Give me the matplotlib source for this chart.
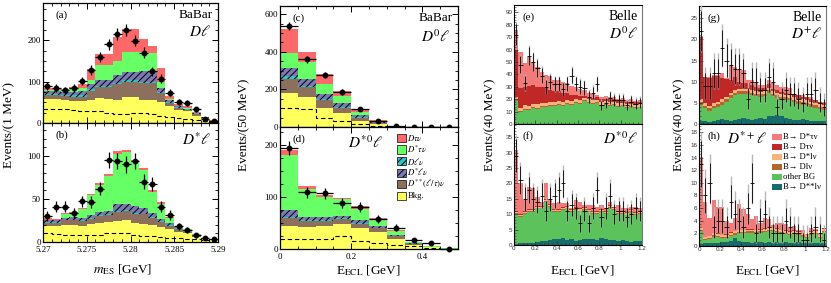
import numpy as np
import matplotlib
matplotlib.use("Agg")
import matplotlib.pyplot as plt
from matplotlib.patches import Rectangle
from matplotlib.ticker import MultipleLocator

plt.rcParams["font.family"] = ["Liberation Serif", "DejaVu Serif"]
plt.rcParams["mathtext.fontset"] = "stix"
plt.rcParams["hatch.linewidth"] = 0.7

# ---------------- BaBar: m_ES (1 MeV bins) ----------------
mes_edges = np.round(np.arange(5.270, 5.2905, 0.001), 4)

# (a) D l sample, stack components from bottom: Bkg, D**, Dlv, D*lv, D*tv, Dtv
a_bkg = [57, 57, 56, 54, 54, 56, 60, 58, 55, 62, 62, 56, 56, 50, 42, 32, 28, 18, 10, 4]
a_dss = [10, 10, 9, 10, 10, 22, 26, 28, 39, 38, 38, 41, 41, 22, 6, 5, 4, 3, 2, 1]
a_dl = [3, 3, 3, 3, 3, 3, 3, 3, 3, 3, 3, 3, 3, 3, 3, 2, 2, 2, 1, 0.5]
a_dsl = [8, 8, 8, 9, 10, 14, 16, 16, 20, 21, 21, 26, 26, 10, 4, 1, 1, 0.5, 0.5, 0.2]
a_dstau = [2, 2, 3, 5, 8, 8, 35, 35, 33, 48, 48, 46, 42, 14, 3, 2, 1, 0.5, 0.3, 0.3]
a_dtau = [4, 4, 3, 5, 10, 27, 27, 27, 59, 55, 55, 30, 17, 33, 7, 5, 5, 3, 0.7, 0.5]
a_data = [89, 85, 79, 85, 101, 128, 159, 190, 215, 225, 199, 170, 125, 107, 73, 51, 49, 33, 10, 4]
a_dash = [35, 35, 33, 31, 30, 29, 28, 25, 21, 22, 23, 23, 21, 18, 14, 12, 10, 8, 5, 3]

# (b) D* l sample
b_bkg = [18, 18, 20, 20, 19, 21, 22, 23, 24, 26, 22, 21, 20, 17, 15, 12, 10, 6, 3, 2]
b_dss = [4, 4, 5, 5, 5, 6, 8, 8, 11, 10, 11, 11, 8, 6, 4, 3, 2, 1, 1, 0.3]
b_dl = [1, 1, 1, 1, 1, 1, 1, 1, 1, 1, 1, 1, 1, 1, 1, 1, 1, 0.5, 0.3, 0.2]
b_dsl = [2, 2, 2, 3, 3, 3, 4, 4, 8, 7, 8, 7, 5, 3, 2, 1, 1, 0.5, 0.7, 0.5]
b_dstau = [1, 1, 5, 5, 10, 23, 31, 40, 58, 60, 51, 44, 24, 17, 6, 1, 1, 1, 0, 0]
b_dtau = [2, 1, 1, 1, 2, 2, 3, 3, 3, 3, 2, 2, 2, 2, 1, 1, 0.5, 0.3, 0.2, 0.1]
b_data = [30, 41, 41, 34, 47, 46, 62, 95, 94, 90, 94, 70, 67, 41, 31, 18, 14, 8, 5, 3]
b_dash = [10, 9, 8, 8, 8, 8, 8, 10, 10, 10, 8, 7, 7, 6, 5, 5, 4, 3, 2, 1]

# ---------------- BaBar: E_ECL (50 MeV bins) ----------------
ecl_edges = np.round(np.arange(0.0, 0.501, 0.05), 3)

c_bkg = [181, 160, 103, 75, 32, 14, 2, 0.5, 0.2, 0]
c_dss = [76, 50, 39, 28, 18, 7, 1, 0.5, 0.1, 0]
c_dl = [13, 7, 7, 4, 3, 2, 0.5, 0.1, 0.05, 0]
c_dsl = [41, 37, 29, 21, 9, 4, 0.5, 0.1, 0.05, 0]
c_dstau = [80, 92, 53, 37, 18, 5, 0.5, 0.1, 0.05, 0]
c_dtau = [128, 54, 50, 27, 18, 4, 0.5, 0.2, 0.05, 0]
c_data = [536, 359, 275, 186, 98, 30, 4, 1, 0, 0]
c_dash = [103, 94, 50, 32, 14, 4, 1, 0.3, 0, 0]

d_bkg = [44, 42, 44, 49, 40, 33, 20, 8, 3, 0.5]
d_dss = [16, 11, 9, 8, 9, 7, 5, 2, 1, 0.2]
d_dl = [2, 2, 2, 2, 2, 1, 1, 0.5, 0.2, 0.05]
d_dsl = [13, 7, 6, 4, 5, 3, 1, 0.5, 0.3, 0.05]
d_dstau = [106, 54, 40, 33, 22, 13, 8, 2, 1, 0.2]
d_dtau = [9, 5, 3, 3, 5, 2, 2, 1, 0.5, 0.1]
d_data = [195, 109, 107, 89, 81, 58, 41, 17, 11, 0]
d_dash = [20, 20, 20, 26, 16, 12, 8, 5, 2, 0]

# ---------------- Belle: E_ECL (40 MeV bins) ----------------
belle_edges = np.round(np.arange(0.0, 1.2001, 0.04), 3)

# stack from bottom: D**lv, other BG, Dlv, D*lv, Dtv, D*tv
e_dssl = [0.3] * 30
e_other = [18.5, 9.5, 10.8, 11.2, 12.9, 12.1, 13.8, 13.2, 14.4, 14.0, 15.2, 14.5, 15.9, 15.1, 16.8,
           16.0, 18.2, 16.4, 15.8, 16.5, 14.6, 15.3, 14.2, 14.9, 13.5, 14.1, 12.8, 13.6, 12.4, 13.1]
e_dl = [1.0, 0.8, 0.9, 0.8, 0.7, 0.9, 0.8, 0.8, 0.9, 0.8, 0.8, 0.7, 0.8, 0.9, 0.8,
        0.8, 0.7, 0.8, 0.8, 0.7, 0.8, 0.8, 0.7, 0.8, 0.8, 0.7, 0.8, 0.7, 0.7, 0.7]
e_dsl = [2.2, 2.4, 3.0, 2.5, 2.2, 2.6, 2.3, 2.5, 2.1, 2.4, 2.2, 2.6, 2.1, 2.4, 2.2,
         2.5, 2.0, 2.3, 2.4, 2.0, 2.3, 2.1, 2.4, 2.0, 2.2, 2.1, 2.3, 1.9, 2.0, 1.8]
e_dtau = [38, 16, 15, 16, 15, 14, 13, 12, 10, 9, 8, 7, 6, 5, 3,
          3, 1.5, 1.5, 2, 2, 2, 2, 2.5, 2, 1.5, 1.5, 1.5, 1.5, 2, 2]
e_dstau = [16, 29, 19, 23, 19, 16, 12, 11, 11, 9, 9, 9, 8, 7, 7,
           6, 5, 4, 2.5, 1.5, 1.5, 2, 2, 2, 2, 2, 2, 2, 1.5, 1.5]
e_data = [72, 48, 33, 55, 50, 45, 39, 30, 34, 32, 32, 28, 32, 39, 32,
          30, 29, 22, 25, 32, 15, 17, 21, 19, 19, 19, 15, 18, 16, 17]

f_dssl = [0.3, 0.5, 0.6, 0.8, 0.8, 1.0, 1.2, 1.3, 1.5, 1.8, 2.0, 2.2, 1.5, 1.8, 1.4,
          1.6, 2.0, 2.0, 1.8, 1.5, 2.2, 1.8, 1.5, 1.6, 1.4, 1.5, 1.2, 1.0, 1.2, 1.4]
f_other = [9.9, 8.6, 9.6, 10.0, 10.0, 10.9, 10.7, 12.7, 10.9, 9.0, 8.8, 9.2, 10.4, 9.0, 10.0,
           9.4, 9.4, 8.8, 8.4, 8.7, 8.6, 8.4, 10.6, 9.8, 8.8, 8.7, 8.5, 9.8, 8.7, 8.8]
f_dl = [0.2] * 30
f_dsl = [0.4] * 30
f_dtau = [0.3] * 30
f_dstau = [19.6, 10.0, 3.5, 7.3, 6.7, 2.9, 1.2, 5.1, 1.7, 1.8, 2.3, 1.2, 0.7, 0.3, 2.3,
           2.1, 0.7, 1.3, 1.9, 1.4, 1.3, 0.9, 1.0, 0.2, 1.9, 0.9, 1.4, 0.8, 1.7, 0.9]
f_data = [29, 21, 15, 18, 15, 14, 16, 11, 15, 16, 18, 20, 11, 13, 12,
          7, 11, 7, 12, 18, 9, 12, 16, 10, 11, 11, 9, 10, 12, 11]

g_dssl = [0.6, 0.6, 0.5, 0.8, 1.0, 1.2, 1.0, 0.8, 1.0, 1.2, 1.5, 1.3, 1.0, 1.2, 1.5,
          1.3, 1.8, 2.0, 2.2, 1.8, 1.5, 1.2, 1.0, 1.0, 1.2, 1.0, 0.8, 0.8, 0.7, 0.6]
g_other = [4.0, 3.1, 2.6, 2.9, 3.1, 3.4, 4.3, 5.4, 5.8, 5.9, 5.6, 5.8, 5.8, 5.4, 4.9,
           5.3, 5.6, 4.6, 4.0, 4.0, 4.2, 4.4, 4.1, 3.8, 3.4, 3.4, 3.3, 3.0, 2.8, 2.7]
g_dl = [0.6] * 30
g_dsl = [0.6] * 30
g_dtau = [14.8, 6.1, 6.5, 6.5, 6.1, 5.0, 4.1, 3.0, 3.0, 1.7, 1.5, 1.5, 1.2, 1.0, 1.0,
          0.6, 0.8, 0.4, 0.6, 0.6, 0.5, 0.4, 0.7, 0.8, 0.7, 0.7, 0.7, 0.6, 0.5, 0.5]
g_dstau = [0.2, 0.2, 0.4, 0.2, 0.2, 1.2, 0.2, 3.6, 2.5, 2.8, 3.0, 0.6, 1.2, 0.8, 0.6,
           0.8, 1.0, 1.4, 1.2, 1.2, 1.4, 1.2, 0.2, 0.1, 0.4, 0.2, 0.3, 0.1, 0.1, 0.3]
g_data = [22, 9, 9, 12, 12, 18, 15, 14, 13, 13, 12, 6, 10, 10, 8,
          8, 11, 10, 4, 6, 8, 7, 7, 6, 5, 7, 7, 8, 5, 4]

h_dssl = [0.3, 0.4, 0.4, 0.5, 0.5, 0.6, 0.7, 0.8, 1.2, 0.8, 0.6, 0.6, 0.5, 0.6, 0.6,
          0.5, 0.6, 0.5, 0.6, 0.5, 0.6, 0.5, 0.5, 0.6, 0.4, 0.5, 0.5, 0.4, 0.4, 0.5]
h_other = [2.0, 0.5, 0.65, 1.0, 0.9, 0.6, 0.6, 0.8, 0.6, 1.2, 1.4, 1.5, 1.6, 1.4, 1.5,
           1.7, 1.7, 1.8, 1.6, 1.5, 1.3, 1.2, 1.4, 1.1, 1.1, 0.7, 1.2, 1.5, 0.8, 1.7]
h_dl = [0.2] * 30
h_dsl = [0.3] * 30
h_dtau = [0.1] * 30
h_dstau = [11.2, 5.4, 2.8, 5.1, 4.1, 4.3, 2.0, 1.5, 2.1, 4.1, 3.3, 2.3, 1.5, 2.1, 1.0,
           1.7, 1.3, 0.5, 0.9, 1.1, 1.0, 0.5, 0.6, 0.2, 0.4, 0.1, 0.5, 0.2, 0.1, 0.1]
h_data = [13, 8, 10, 3, 4, 4, 3, 7, 5, 4, 3, 6, 10, 2, 4,
          5, 3, 2, 2, 2, 4, 3, 2, 2, 1, 1, 2, 3, 2, 1]

babar_labels = [r"$D\tau\nu$", r"$D^{*}\tau\nu$", r"$D\ell\nu$", r"$D^{*}\ell\nu$",
                r"$D^{**}(\ell/\tau)\nu$", "Bkg."]
belle_labels = ["B\u2192 D*\u03c4\u03bd", "B\u2192 D\u03c4\u03bd", "B\u2192 D*l\u03bd",
                "B\u2192 Dl\u03bd", "other BG", "B\u2192 D**l\u03bd"]

# colours / styles (stack order bottom -> top)
babar_cols = ["#ffff5e", "#8c6f5d", "#2fc4c8", "#7a7ab2", "#66ff66", "#ff6868"]
babar_hatch = [None, None, "/////", "/////", None, None]
belle_cols = ["#166c6c", "#5cc25c", "#b5652a", "#f8b27c", "#c02828", "#f47a7a"]

W, H = 831, 283
fig = plt.figure(figsize=(W / 100, H / 100), dpi=100)


def px_axes(x0, y0, x1, y1):
    return fig.add_axes([x0 / W, 1 - y1 / H, (x1 - x0) / W, (y1 - y0) / H])


def babar_panel(ax, edges, comps, data, dash, ylim, ymaj, ymin):
    base = np.zeros(len(edges) - 1)
    for vals, col, hat in zip(comps, babar_cols, babar_hatch):
        top = base + np.asarray(vals, float)
        ax.stairs(top, edges, baseline=base, fill=True, facecolor=col,
                  edgecolor="k" if hat else col, hatch=hat, linewidth=0)
        base = top
    ax.stairs(dash, edges, baseline=None, color="k", ls=(0, (4, 2.5)), lw=0.8)
    cen = 0.5 * (edges[:-1] + edges[1:])
    half = 0.5 * np.diff(edges)
    d = np.asarray(data, float)
    ax.errorbar(cen, d, xerr=half, yerr=np.sqrt(d), fmt="o", ms=3.2, color="k",
                lw=0.9, capsize=0, clip_on=False, zorder=5)
    ax.set_xlim(edges[0], edges[-1])
    ax.set_ylim(*ylim)
    ax.yaxis.set_major_locator(MultipleLocator(ymaj))
    ax.yaxis.set_minor_locator(MultipleLocator(ymin))
    ax.tick_params(which="both", direction="in", top=True, right=True, labelsize=6.5, pad=1.5)
    ax.tick_params(axis="x", pad=3)
    ax.tick_params(which="major", length=4, width=0.7)
    ax.tick_params(which="minor", length=2, width=0.6)
    for s in ax.spines.values():
        s.set_linewidth(0.9)


def belle_panel(ax, comps, data, ylim, ymaj, ymin):
    edges = belle_edges
    base = np.zeros(len(edges) - 1)
    for vals, col in zip(comps, belle_cols):
        top = base + np.asarray(vals, float)
        ax.stairs(top, edges, baseline=base, fill=True, facecolor=col, edgecolor=col, linewidth=0)
        base = top
    cen = 0.5 * (edges[:-1] + edges[1:])
    d = np.asarray(data, float)
    err = np.sqrt(d)
    ax.errorbar(cen, d, yerr=[err * 1.05, err + 1.4], fmt="none", ecolor="#b8b8b8",
                lw=1.0, capsize=0, zorder=4)
    ax.errorbar(cen, d, xerr=0.02, yerr=err, fmt="none", ecolor="k", lw=0.6,
                capsize=0, zorder=5)
    ax.set_xlim(0, 1.2)
    ax.set_ylim(*ylim)
    ax.xaxis.set_major_locator(MultipleLocator(0.2))
    ax.xaxis.set_minor_locator(MultipleLocator(0.04))
    ax.yaxis.set_major_locator(MultipleLocator(ymaj))
    ax.yaxis.set_minor_locator(MultipleLocator(ymin))
    ax.xaxis.set_major_formatter(lambda v, p: f"{v:g}")
    ax.tick_params(which="both", direction="in", labelsize=4.5, pad=1, colors="#333333")
    ax.tick_params(which="major", length=3, width=0.5)
    ax.tick_params(which="minor", length=1.5, width=0.4)
    for lab in ax.get_xticklabels() + ax.get_yticklabels():
        lab.set_fontfamily("Liberation Sans")
    for s in ax.spines.values():
        s.set_linewidth(0.8)
    ax.spines["right"].set_color("#777777")


def key(ax, x0, y0, dy, w, h, cols, hatches, labels, fs, edge, tx):
    # small legend: coloured box + label, in axes fractions
    for i, (col, hat, lab) in enumerate(zip(cols, hatches, labels)):
        yc = y0 - i * dy
        ax.add_patch(Rectangle((x0, yc - h / 2), w, h, transform=ax.transAxes,
                               facecolor=col, edgecolor=edge, hatch=hat, lw=0.5,
                               clip_on=False, zorder=6))
        ax.text(tx, yc, lab, transform=ax.transAxes, fontsize=fs, ha="left",
                va="center", zorder=6)


# --- BaBar m_ES ---
ax_a = px_axes(43, 3, 218, 123)
babar_panel(ax_a, mes_edges, [a_bkg, a_dss, a_dl, a_dsl, a_dstau, a_dtau], a_data, a_dash,
            (0, 290), 100, 25)
ax_a.tick_params(labelbottom=False)
ax_b = px_axes(43, 123, 218, 242)
babar_panel(ax_b, mes_edges, [b_bkg, b_dss, b_dl, b_dsl, b_dstau, b_dtau], b_data, b_dash,
            (0, 138), 50, 10)
for ax in (ax_a, ax_b):
    ax.xaxis.set_major_locator(MultipleLocator(0.005))
    ax.xaxis.set_minor_locator(MultipleLocator(0.001))
ax_b.xaxis.set_major_formatter(lambda v, p: f"{v:g}")

# --- BaBar E_ECL ---
ax_c = px_axes(280, 6, 458, 127)
babar_panel(ax_c, ecl_edges, [c_bkg, c_dss, c_dl, c_dsl, c_dstau, c_dtau], c_data, c_dash,
            (0, 643), 200, 50)
ax_c.tick_params(labelbottom=False)
ax_d = px_axes(280, 127, 458, 249)
babar_panel(ax_d, ecl_edges, [d_bkg, d_dss, d_dl, d_dsl, d_dstau, d_dtau], d_data, d_dash,
            (0, 235), 100, 25)
for ax in (ax_c, ax_d):
    ax.xaxis.set_major_locator(MultipleLocator(0.2))
    ax.xaxis.set_minor_locator(MultipleLocator(0.05))
ax_d.xaxis.set_major_formatter(lambda v, p: f"{v:g}")

# --- Belle ---
ax_e = px_axes(514, 5, 642, 124)
belle_panel(ax_e, [e_dssl, e_other, e_dl, e_dsl, e_dtau, e_dstau], e_data, (0, 96), 10, 2)
ax_e.tick_params(labelbottom=False)
ax_f = px_axes(514, 124, 642, 245)
belle_panel(ax_f, [f_dssl, f_other, f_dl, f_dsl, f_dtau, f_dstau], f_data, (0, 39.3), 5, 1)
ax_g = px_axes(699, 6, 826, 124)
belle_panel(ax_g, [g_dssl, g_other, g_dl, g_dsl, g_dtau, g_dstau], g_data, (0, 27.9), 5, 1)
ax_g.tick_params(labelbottom=False)
ax_h = px_axes(699, 124, 826, 246)
belle_panel(ax_h, [h_dssl, h_other, h_dl, h_dsl, h_dtau, h_dstau], h_data, (0, 19.3), 2, 0.5)

# --- panel annotations ---
for ax, tag in [(ax_a, "(a)"), (ax_b, "(b)"), (ax_c, "(c)"), (ax_d, "(d)"),
                (ax_e, "(e)"), (ax_f, "(f)"), (ax_g, "(g)"), (ax_h, "(h)")]:
    ax.text(0.07, 0.9, tag, transform=ax.transAxes, fontsize=8, va="center", ha="left")

for ax in (ax_a, ax_c):
    ax.text(0.97, 0.9, "BaBar", transform=ax.transAxes, fontsize=9.5, ha="right", va="center")
for ax in (ax_e, ax_g):
    ax.text(0.97, 0.9, "Belle", transform=ax.transAxes, fontsize=10, ha="right", va="center")

ax_a.text(0.96, 0.76, r"$D\ell$", transform=ax_a.transAxes, fontsize=11, ha="right", va="center")
ax_b.text(0.96, 0.86, r"$D^{*}\ell$", transform=ax_b.transAxes, fontsize=11, ha="right", va="center")
ax_c.text(0.96, 0.75, r"$D^{0}\ell$", transform=ax_c.transAxes, fontsize=11, ha="right", va="center")
ax_d.text(0.48, 0.87, r"$D^{*0}\ell$", transform=ax_d.transAxes, fontsize=11, ha="center", va="center")
ax_e.text(0.97, 0.76, r"$D^{0}\ell$", transform=ax_e.transAxes, fontsize=11, ha="right", va="center")
ax_f.text(0.97, 0.88, r"$D^{*0}\ell$", transform=ax_f.transAxes, fontsize=11, ha="right", va="center")
ax_g.text(0.97, 0.76, r"$D^{+}\ell$", transform=ax_g.transAxes, fontsize=11, ha="right", va="center")
ax_h.text(0.22, 0.88, r"$D^{*+}\ell$", transform=ax_h.transAxes, fontsize=11, ha="left", va="center")

# --- legends ---
order_bb = (5, 4, 2, 3, 1, 0)
key(ax_d, 0.657, 0.91, 0.0945, 0.051, 0.066,
    [babar_cols[i] for i in order_bb], [babar_hatch[i] for i in order_bb],
    babar_labels, 6.3, "k", 0.715)
order_bl = (5, 4, 3, 2, 1, 0)
key(ax_h, 0.575, 0.893, 0.082, 0.079, 0.054,
    [belle_cols[i] for i in order_bl], [None] * 6, belle_labels, 6.2, "none", 0.665)

# --- axis titles ---
fig.text(9 / W, 1 - 125 / H, "Events/(1 MeV)", rotation=90, fontsize=9.5, ha="center", va="center")
fig.text(244 / W, 1 - 125 / H, "Events/(50 MeV)", rotation=90, fontsize=9.5, ha="center", va="center")
fig.text(490 / W, 1 - 125 / H, "Events/(40 MeV)", rotation=90, fontsize=9.5, ha="center", va="center")
fig.text(679 / W, 1 - 125 / H, "Events/(40 MeV)", rotation=90, fontsize=9.5, ha="center", va="center")

fig.text(123 / W, 1 - 270 / H, r"$m_{\mathrm{ES}}$ [GeV]", fontsize=9.5, ha="center", va="center")
for xc in (368, 582, 767):
    fig.text(xc / W, 1 - 271 / H, r"E$_{\mathrm{ECL}}$ [GeV]", fontsize=9.5, ha="center", va="center")

fig.savefig("out.png", dpi=100)
